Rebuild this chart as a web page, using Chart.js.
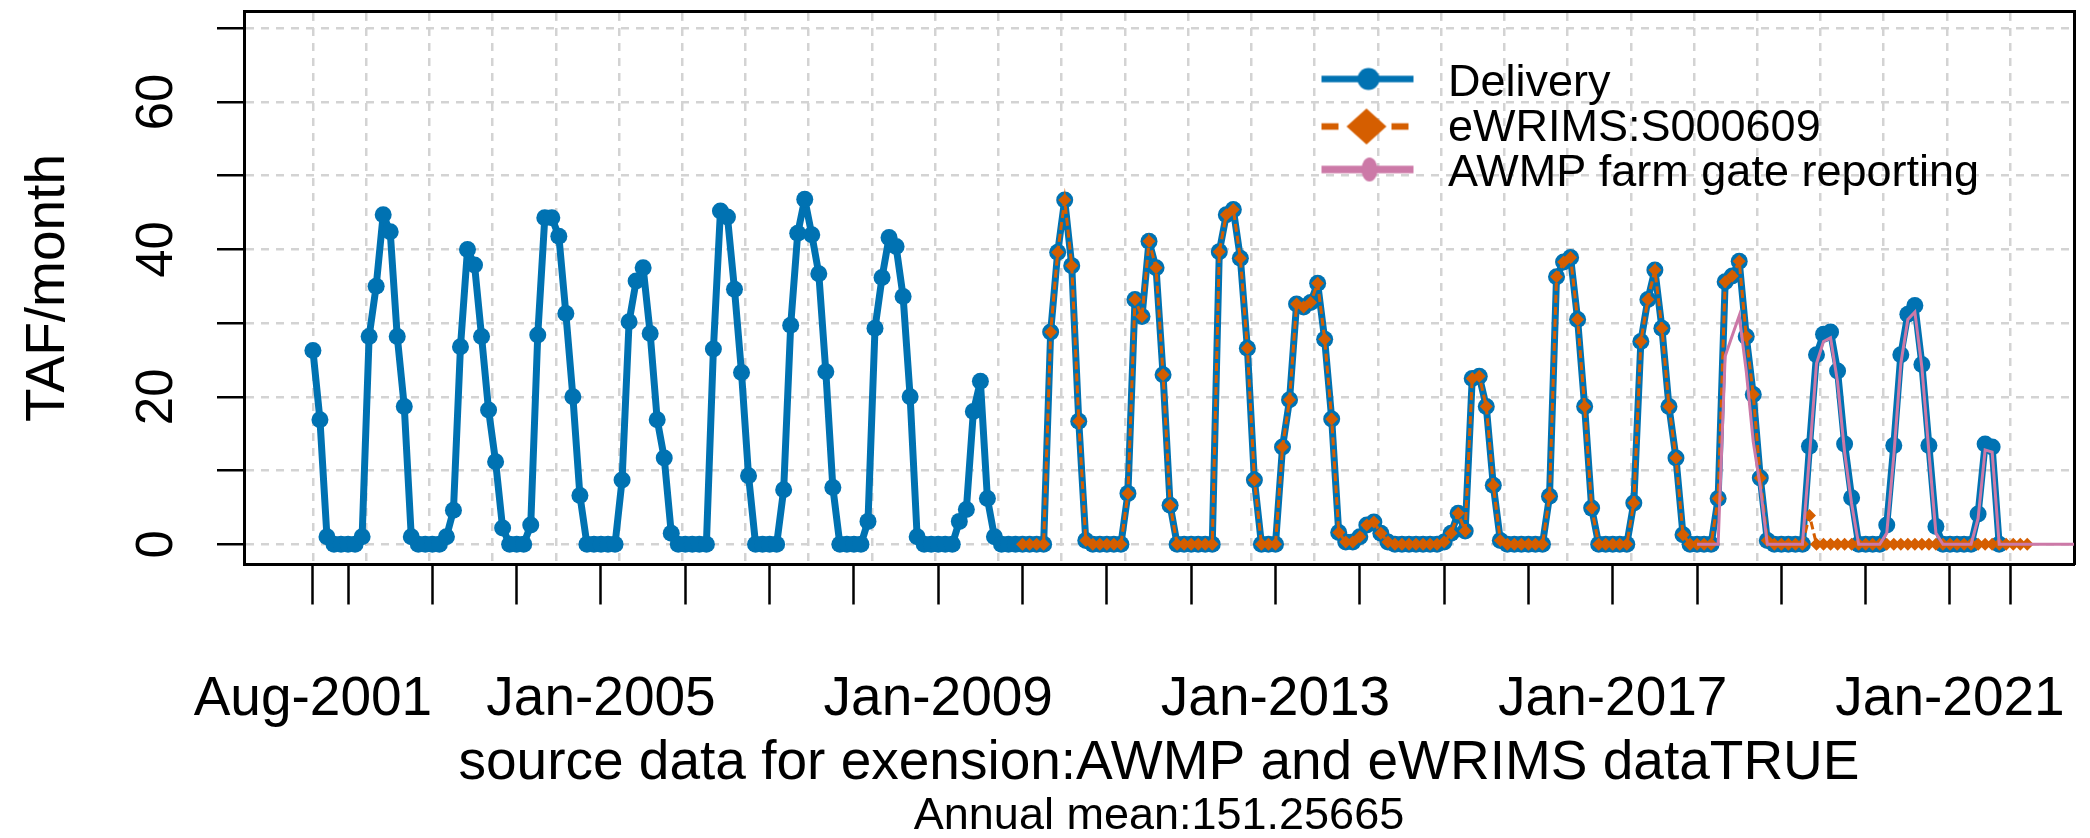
<!DOCTYPE html>
<html>
<head>
<meta charset="utf-8">
<title>Delivery TAF/month</title>
<script src="https://cdn.jsdelivr.net/npm/chart.js@4.4.1/dist/chart.umd.min.js"></script>
<style>
  html, body { margin: 0; padding: 0; background: #fff; }
  canvas { display: block; }
</style>
</head>
<body>
<canvas id="chart" width="2090" height="838"></canvas>
<script>
// monthly values, TAF/month
const deliveryStart = '2001-08';
const delivery = [
  26.3, 16.9, 1.0, 0, 0,                                        // 2001 Aug-Dec
  0, 0, 1.0, 28.2, 35.0, 44.7, 42.4, 28.2, 18.7, 1.0, 0, 0,     // 2002
  0, 0, 1.0, 4.6, 26.8, 40.0, 37.9, 28.2, 18.2, 11.2, 2.2, 0,   // 2003
  0, 0, 2.6, 28.4, 44.3, 44.3, 41.8, 31.3, 20.0, 6.6, 0, 0,     // 2004
  0, 0, 0, 8.7, 30.2, 35.7, 37.5, 28.6, 16.9, 11.7, 1.5, 0,     // 2005
  0, 0, 0, 0, 26.5, 45.2, 44.4, 34.6, 23.3, 9.3, 0, 0,          // 2006
  0, 0, 7.4, 29.7, 42.2, 46.8, 42.0, 36.7, 23.4, 7.7, 0, 0,     // 2007
  0, 0, 3.1, 29.3, 36.2, 41.6, 40.4, 33.6, 20.0, 1.0, 0, 0,     // 2008
  0, 0, 0, 3.1, 4.7, 18.0, 22.1, 6.2, 1.0, 0, 0, 0,             // 2009
  0, 0, 0, 0, 28.8, 39.6, 46.7, 37.8, 16.7, 0.5, 0, 0,          // 2010
  0, 0, 0, 6.9, 33.2, 30.9, 41.1, 37.5, 23.0, 5.3, 0, 0,        // 2011
  0, 0, 0, 0, 39.7, 44.7, 45.4, 38.8, 26.6, 8.7, 0, 0,          // 2012
  0, 13.2, 19.6, 32.6, 32.2, 32.8, 35.4, 27.8, 17.0, 1.6, 0.3, 0.3, // 2013
  1.0, 2.6, 3.0, 1.5, 0.3, 0, 0, 0, 0, 0, 0, 0,                 // 2014
  0.3, 1.5, 4.2, 1.8, 22.5, 22.8, 18.7, 8.0, 0.5, 0, 0, 0,      // 2015
  0, 0, 0, 6.5, 36.3, 38.3, 38.9, 30.5, 18.7, 4.9, 0, 0,        // 2016
  0, 0, 0, 5.6, 27.5, 33.2, 37.2, 29.3, 18.7, 11.7, 1.3, 0,     // 2017
  0, 0, 0, 6.2, 35.6, 36.4, 38.4, 28.2, 20.3, 9.0, 0.5, 0,      // 2018
  0, 0, 0, 0, 13.3, 25.7, 28.5, 28.8, 23.5, 13.6, 6.3, 0,       // 2019
  0, 0, 0, 2.6, 13.4, 25.7, 31.2, 32.4, 24.4, 13.4, 2.4, 0,     // 2020
  0, 0, 0, 0, 4.1, 13.6, 13.2, 0                                // 2021 Jan-Aug
];

const ewrimsStart = '2010-01';
const ewrims = [
  0, 0, 0, 0, 28.8, 39.6, 46.7, 37.8, 16.7, 0.5, 0, 0,          // 2010
  0, 0, 0, 6.9, 33.2, 30.9, 41.1, 37.5, 23.0, 5.3, 0, 0,        // 2011
  0, 0, 0, 0, 39.7, 44.7, 45.4, 38.8, 26.6, 8.7, 0, 0,          // 2012
  0, 13.2, 19.6, 32.6, 32.2, 32.8, 35.4, 27.8, 17.0, 1.6, 0.3, 0.3, // 2013
  1.0, 2.6, 3.0, 1.5, 0.3, 0, 0, 0, 0, 0, 0, 0,                 // 2014
  0.3, 1.5, 4.2, 1.8, 22.5, 22.8, 18.7, 8.0, 0.5, 0, 0, 0,      // 2015
  0, 0, 0, 6.5, 36.3, 38.3, 38.9, 30.5, 18.7, 4.9, 0, 0,        // 2016
  0, 0, 0, 5.6, 27.5, 33.2, 37.2, 29.3, 18.7, 11.7, 1.3, 0,     // 2017
  0, 0, 0, 6.2, 35.6, 36.4, 38.4, 28.2, 20.3, 9.0, 0.5, 0,      // 2018
  0, 0, 0, 0, 3.9, 0, 0, 0, 0, 0, 0, 0,                         // 2019
  0, 0, 0, 0, 0, 0, 0, 0, 0, 0, 0, 0,                           // 2020
  0, 0, 0, 0, 0, 0, 0, 0, 0, 0, 0, 0                            // 2021
];

const awmpStart = '2018-01';
const awmp = [
  0, 0, 0, 0, 25.5, 28.3, 31.0, 23.5, 13.9, 7.8, 0, 0,          // 2018
  0, 0, 0, 0, 12.0, 24.5, 27.5, 28.0, 22.0, 12.5, 5.5, 0,       // 2019
  0, 0, 0, 1.5, 12.0, 24.5, 30.5, 31.5, 24.0, 12.5, 1.5, 0,     // 2020
  0, 0, 0, 0, 3.5, 12.8, 12.5, 0, 0, 0, 0, 0,                   // 2021
  0, 0, 0, 0, 0, 0, 0, 0, 0, 0, 0, 0                            // 2022
];

const seriesNames = ['Delivery', 'eWRIMS:S000609', 'AWMP farm gate reporting'];

// x axis tick dates and their labels (R only prints the ones that do not overlap)
const xTickDates = ['2001-08-01', '2002-01-01', '2003-01-01', '2004-01-01', '2005-01-01',
  '2006-01-01', '2007-01-01', '2008-01-01', '2009-01-01', '2010-01-01', '2011-01-01',
  '2012-01-01', '2013-01-01', '2014-01-01', '2015-01-01', '2016-01-01', '2017-01-01',
  '2018-01-01', '2019-01-01', '2020-01-01', '2021-01-01', '2021-09-18'];
const xTickLabels = ['Aug-2001', 'Jan-2002', 'Jan-2003', 'Jan-2004', 'Jan-2005',
  'Jan-2006', 'Jan-2007', 'Jan-2008', 'Jan-2009', 'Jan-2010', 'Jan-2011',
  'Jan-2012', 'Jan-2013', 'Jan-2014', 'Jan-2015', 'Jan-2016', 'Jan-2017',
  'Jan-2018', 'Jan-2019', 'Jan-2020', 'Jan-2021', 'Sep-2021'];
const xShownLabels = ['Aug-2001', 'Jan-2005', 'Jan-2009', 'Jan-2013', 'Jan-2017', 'Jan-2021'];

const yTicks = [0, 10, 20, 30, 40, 50, 60, 70];
const yShownLabels = [0, 20, 40, 60];

const xTitle = 'source data for exension:AWMP and eWRIMS dataTRUE';
const subTitle = 'Annual mean:151.25665';
const yTitle = 'TAF/month';

// ---------------------------------------------------------------
const FONT = "'Liberation Sans', Arial, sans-serif";
const BLUE = '#0072B2', ORANGE = '#D55E00', PINK = '#CC79A7', GRID = '#D3D3D3';

// months since Aug-2001 (fractional for a day inside the month)
function monthIndex(str) {
  const p = str.split('-').map(Number);
  const day = p[2] || 1;
  return (p[0] - 2001) * 12 + (p[1] - 8) + (day - 1) / 30;
}
function toPoints(values, start) {
  const m0 = monthIndex(start);
  return values.map((v, i) => ({ x: m0 + i, y: v }));
}

const xMin = -9.81, xMax = 250.65;
const yMin = -2.75, yMax = 72.28;

// vertical grid: first tick, then every 9 months back from the last tick
const gridStep = 9;
const firstTick = monthIndex(xTickDates[0]);
const lastTick = monthIndex(xTickDates[xTickDates.length - 1]);
const gridPos = [firstTick];
for (let m = lastTick; m > firstTick + 2; m -= gridStep) gridPos.push(m);

// legend symbols: line with its marker, as in the R legend
function makeSymbol(draw) {
  const c = document.createElement('canvas');
  c.width = 116; c.height = 60;
  draw(c.getContext('2d'));
  return c;
}
const legendSymbols = [
  makeSymbol(g => {
    const cy = 25.5;
    g.strokeStyle = BLUE; g.lineWidth = 6.5;
    g.beginPath(); g.moveTo(12, cy); g.lineTo(104, cy); g.stroke();
    g.fillStyle = BLUE; g.beginPath(); g.arc(59, cy, 11, 0, Math.PI * 2); g.fill();
  }),
  makeSymbol(g => {
    const cy = 28;
    g.strokeStyle = ORANGE; g.lineWidth = 6.5;
    g.beginPath(); g.moveTo(12, cy); g.lineTo(29, cy); g.moveTo(82, cy); g.lineTo(99, cy); g.stroke();
    g.fillStyle = ORANGE;
    g.beginPath(); g.moveTo(57, cy - 18); g.lineTo(77, cy); g.lineTo(57, cy + 18); g.lineTo(37, cy);
    g.closePath(); g.fill();
  }),
  makeSymbol(g => {
    const cy = 26;
    g.strokeStyle = PINK; g.lineWidth = 7.5;
    g.beginPath(); g.moveTo(12, cy); g.lineTo(104, cy); g.stroke();
    g.fillStyle = PINK; g.beginPath(); g.ellipse(60, cy, 8, 12, 0, 0, Math.PI * 2); g.fill();
  })
];

// keep the legend out of the layout and put it inside the plot, top right
const legendInPlot = {
  id: 'legendInPlot',
  afterInit(chart) {
    const lg = chart.legend;
    if (!lg) return;
    const fit = lg.fit.bind(lg);
    lg.fit = function () { fit(); this.width = 0; };
  },
  afterLayout(chart, args, opts) {
    const lg = chart.legend;
    if (!lg) return;
    lg.left = opts.left; lg.top = opts.top;
    lg.right = opts.left + 760; lg.bottom = opts.top + 200;
  }
};

const noPad = s => { s.paddingLeft = 0; s.paddingRight = 0; s.paddingTop = 0; s.paddingBottom = 0; };

new Chart(document.getElementById('chart'), {
  type: 'line',
  data: {
    datasets: [
      {
        label: seriesNames[0],
        data: toPoints(delivery, deliveryStart),
        borderColor: BLUE, borderWidth: 7,
        borderJoinStyle: 'round', borderCapStyle: 'round',
        pointStyle: 'circle', pointRadius: 8.5, pointBorderWidth: 0,
        pointBackgroundColor: BLUE,
        order: 3, clip: 0
      },
      {
        label: seriesNames[1],
        data: toPoints(ewrims, ewrimsStart),
        borderColor: ORANGE, borderWidth: 3, borderDash: [8, 4],
        pointStyle: 'rectRot', pointRadius: 6.5, pointBorderWidth: 0,
        pointBackgroundColor: ORANGE,
        order: 2, clip: 0
      },
      {
        label: seriesNames[2],
        data: toPoints(awmp, awmpStart),
        borderColor: PINK, borderWidth: 3,
        pointRadius: 0,
        order: 1, clip: 0
      }
    ]
  },
  options: {
    responsive: false,
    animation: false,
    devicePixelRatio: 1,
    events: [],
    layout: { padding: { top: 11.5, left: 0, right: 16, bottom: 0 } },
    elements: { line: { tension: 0, fill: false } },
    plugins: {
      tooltip: { enabled: false },
      legend: {
        display: true,
        position: 'right',
        align: 'start',
        labels: {
          usePointStyle: true,
          pointStyleWidth: 116,
          padding: 0,
          color: '#000',
          font: { family: FONT, size: 45, lineHeight: 1 },
          generateLabels: () => seriesNames.map((name, i) => ({
            text: name, pointStyle: legendSymbols[i], datasetIndex: i,
            fillStyle: 'rgba(0,0,0,0)', strokeStyle: 'rgba(0,0,0,0)', lineWidth: 0,
            hidden: false, fontColor: '#000'
          }))
        }
      },
      legendInPlot: { left: 1309.5, top: 61 },
      subtitle: {
        display: true,
        text: subTitle,
        position: 'bottom',
        fullSize: false,
        color: '#000',
        font: { family: FONT, size: 45, weight: 'normal', lineHeight: 0.9 },
        padding: { top: 5.25, bottom: 0.75 }
      }
    },
    scales: {
      x: {
        type: 'linear', position: 'bottom',
        min: xMin, max: xMax,
        afterBuildTicks: s => { s.ticks = xTickDates.map(d => ({ value: monthIndex(d) })); },
        afterFit: s => { s.height = 227; noPad(s); },
        grid: { drawOnChartArea: false, drawTicks: true, tickLength: 40, tickColor: '#000', tickWidth: 2.5 },
        border: { display: true, color: '#000', width: 3 },
        ticks: {
          autoSkip: false, maxRotation: 0, minRotation: 0, padding: 68,
          color: '#000', font: { family: FONT, size: 55, lineHeight: 1 },
          callback: (v, i) => (xShownLabels.includes(xTickLabels[i]) ? xTickLabels[i] : '')
        },
        title: {
          display: true, text: xTitle, color: '#000',
          font: { family: FONT, size: 55, lineHeight: 1 },
          padding: { top: 0, bottom: 0.5 }
        }
      },
      xg: {
        type: 'linear', position: 'top', z: 1,
        min: xMin, max: xMax,
        afterBuildTicks: s => { s.ticks = gridPos.map(v => ({ value: v })); },
        afterFit: s => { s.height = 0; noPad(s); },
        grid: { drawOnChartArea: true, drawTicks: false, color: GRID, lineWidth: 2.5 },
        border: { display: true, color: '#000', width: 3, dash: [8, 7] },
        ticks: { display: false }
      },
      y: {
        type: 'linear', position: 'left', z: 1,
        min: yMin, max: yMax,
        afterBuildTicks: s => { s.ticks = yTicks.map(v => ({ value: v })); },
        afterFit: s => { s.width = 244; noPad(s); },
        grid: { drawOnChartArea: true, drawTicks: true, tickLength: 27, color: GRID, lineWidth: 2.5,
                tickColor: '#000', tickWidth: 2.5 },
        border: { display: true, color: '#000', width: 3, dash: [8, 7] },
        ticks: {
          autoSkip: false, minRotation: 90, maxRotation: 90, crossAlign: 'center', padding: 30.6,
          color: '#000', font: { family: FONT, size: 51, lineHeight: 1 },
          callback: v => (yShownLabels.includes(v) ? String(v) : '')
        },
        title: {
          display: true, text: yTitle, color: '#000',
          font: { family: FONT, size: 55, lineHeight: 1 },
          padding: { top: 21.5, bottom: 0 }
        }
      },
      yr: {
        type: 'linear', position: 'right',
        min: 0, max: 1,
        afterFit: s => { s.width = 0; noPad(s); },
        grid: { display: false },
        border: { display: true, color: '#000', width: 3 },
        ticks: { display: false }
      }
    }
  },
  plugins: [legendInPlot]
});
</script>
</body>
</html>
